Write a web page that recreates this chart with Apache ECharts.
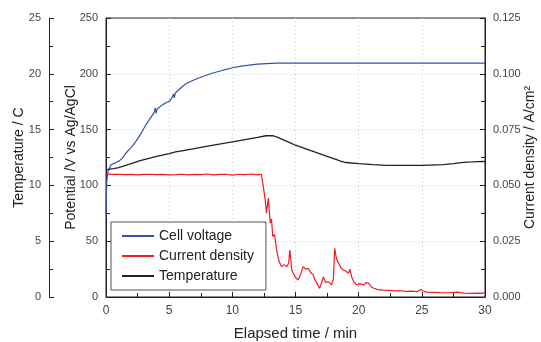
<!DOCTYPE html>
<html>
<head>
<meta charset="utf-8">
<script src="https://cdn.jsdelivr.net/npm/echarts@6/dist/echarts.min.js"></script>
<style>
  html, body { margin: 0; padding: 0; background: #fff; }
  #main { width: 541px; height: 342px; }
</style>
</head>
<body>
<div id="main"></div>
<script>
// elapsed time (min) and cell voltage (V vs Ag/AgCl)
var voltageTime = [0, 0.03, 0.06, 0.1, 0.15, 0.25, 0.4, 0.7, 1.06, 1.3, 1.58, 2.0, 2.37, 2.8, 3.17, 3.5, 3.8, 3.9, 3.96, 4.05, 4.2, 4.49, 4.75, 5.0, 5.2, 5.35, 5.4, 5.5, 5.7, 6.07, 6.4, 6.86, 7.4, 7.92, 8.4, 8.97, 9.5, 10.03, 10.7, 11.35, 12.0, 12.67, 13.5, 15, 18, 21, 24, 27, 30];
var voltage = [72, 92, 103, 108, 112, 115, 118.5, 120, 122, 124.5, 129, 134, 139.5, 147, 154.5, 160, 165, 169.5, 164.5, 168.5, 170, 172.4, 174, 175.4, 178, 182, 178.5, 183, 185, 188.9, 191.5, 194, 196.5, 198.7, 200.5, 202.3, 204, 205.4, 206.8, 207.7, 208.6, 209.2, 209.5, 209.5, 209.5, 209.5, 209.5, 209.5, 209.5];

// temperature (C)
var tempTime = [0, 0.3, 0.6, 1, 2, 2.64, 4, 5, 5.5, 6, 7, 7.5, 8.5, 10, 11, 12, 12.67, 13.2, 13.6, 14, 14.5, 15, 15.5, 16, 16.5, 17, 17.5, 18.26, 18.5, 19, 20, 21.15, 22.2, 23, 24, 25, 26.7, 27.5, 28.3, 29, 29.85, 30];
var temperature = [11.4, 11.45, 11.5, 11.6, 11.95, 12.2, 12.6, 12.85, 13.0, 13.1, 13.3, 13.4, 13.6, 13.9, 14.1, 14.3, 14.45, 14.45, 14.3, 14.1, 13.85, 13.6, 13.4, 13.2, 13.0, 12.8, 12.6, 12.3, 12.2, 12.05, 11.95, 11.86, 11.8, 11.8, 11.8, 11.8, 11.86, 11.95, 12.07, 12.1, 12.15, 12.1];

// current density (A/cm2)
var currentTime = [0, 0.5, 1, 1.5, 2, 2.5, 3, 3.5, 4, 4.5, 5, 5.5, 6, 6.5, 7, 7.5, 8, 8.5, 9, 9.5, 10, 10.5, 11, 11.5, 12, 12.3,
  12.45, 12.6, 12.7, 12.85, 13.0, 13.1, 13.2, 13.35, 13.5, 13.7, 13.9, 14.1, 14.3, 14.45, 14.56, 14.7, 14.96, 15.2, 15.4, 15.6, 15.8, 16.0, 16.2, 16.4, 16.55, 16.7, 16.9, 17.05, 17.2, 17.4, 17.6, 17.85, 18.0, 18.1, 18.25, 18.4, 18.6, 18.8, 19.0, 19.2, 19.3, 19.45, 19.6, 19.85, 20.1, 20.4, 20.6, 20.8, 21.0, 21.2, 21.5, 21.95, 22.5, 23.0, 23.3, 23.8, 24.2, 24.6, 24.9, 25.1, 25.4, 26.0, 26.5, 27.2, 27.8, 28.3, 29.0, 29.5, 29.8, 30];
var current = [0.0552, 0.0549, 0.0550, 0.0548, 0.0549, 0.0547, 0.0549, 0.0550, 0.0548, 0.0549, 0.0547, 0.0548, 0.0550, 0.0547, 0.0549, 0.0548, 0.0551, 0.0547, 0.0549, 0.0550, 0.0546, 0.0550, 0.0548, 0.0551, 0.0547, 0.0550,
  0.0496, 0.0436, 0.0376, 0.0443, 0.0331, 0.0350, 0.0271, 0.0280, 0.0211, 0.0160, 0.0136, 0.0145, 0.0136, 0.0150, 0.0210, 0.0121, 0.0091, 0.0076, 0.0100, 0.0136, 0.0125, 0.0129, 0.0110, 0.0099, 0.0075, 0.0061, 0.0039, 0.0060, 0.0090, 0.0065, 0.0069, 0.0054, 0.0080, 0.0218, 0.0170, 0.0166, 0.0130, 0.0121, 0.0115, 0.0106, 0.0125, 0.0090, 0.0069, 0.0054, 0.0060, 0.0054, 0.0065, 0.0061, 0.0045, 0.0039, 0.0033, 0.0031, 0.0030, 0.0027, 0.0028, 0.0025, 0.0026, 0.0024, 0.0034, 0.0027, 0.0022, 0.0021, 0.0020, 0.0019, 0.0022, 0.0017, 0.0016, 0.0017, 0.0016, 0.0022];

function zip(xs, ys) {
  return xs.map(function (x, i) { return [x, ys[i]]; });
}

var font = 'Liberation Sans';
var labelColor = '#444';
var axisColor = '#222';
var gridLine = { show: true, showMinLine: false, showMaxLine: false, lineStyle: { color: '#c8c8c8', type: [1, 3], width: 1 } };

function yAxisBase(extra) {
  var base = {
    type: 'value',
    axisLine: { show: true, onZero: false, lineStyle: { color: axisColor, width: 1 } },
    axisTick: { show: true, inside: true, length: 5, lineStyle: { color: axisColor } },
    minorTick: { show: true, splitNumber: 2, length: 4, lineStyle: { color: axisColor } },
    axisLabel: { color: labelColor, fontSize: 11, fontFamily: font, margin: 8 },
    splitLine: { show: false },
    nameLocation: 'middle',
    nameRotate: 90,
    nameMoveOverlap: false,
    nameTextStyle: { color: '#222', fontSize: 14, fontFamily: font }
  };
  return Object.assign(base, extra);
}

var myChart = echarts.init(document.getElementById('main'), null, { renderer: 'canvas' });

myChart.setOption({
  animation: false,
  textStyle: { fontFamily: font },
  grid: {
    left: 106, right: 56, top: 18, bottom: 45,
    outerBoundsMode: 'none', containLabel: false,
    show: true, borderColor: axisColor, borderWidth: 1, backgroundColor: 'transparent'
  },
  legend: {
    orient: 'vertical',
    left: 111, top: 222,
    padding: [7, 12, 7, 10],
    itemGap: 6,
    itemWidth: 32, itemHeight: 14,
    backgroundColor: '#fff',
    borderColor: '#555', borderWidth: 1, borderRadius: 0,
    itemStyle: { opacity: 0 },
    textStyle: { color: '#222', fontSize: 14, fontFamily: font },
    data: ['Cell voltage', 'Current density', 'Temperature']
  },
  xAxis: {
    type: 'value', min: 0, max: 30, interval: 5,
    name: 'Elapsed time / min',
    nameLocation: 'middle', nameGap: 29, nameMoveOverlap: false,
    nameTextStyle: { color: '#222', fontSize: 15, fontFamily: font },
    axisLine: { show: true, onZero: false, lineStyle: { color: axisColor } },
    axisTick: { show: true, inside: true, length: 5, lineStyle: { color: axisColor } },
    minorTick: { show: true, splitNumber: 2, length: 4, lineStyle: { color: axisColor } },
    axisLabel: { color: labelColor, fontSize: 12, fontFamily: font, margin: 8 },
    splitLine: gridLine
  },
  yAxis: [
    yAxisBase({
      position: 'left', offset: 57, min: 0, max: 25, interval: 5,
      name: 'Temperature / C', nameGap: 23
    }),
    yAxisBase({
      position: 'left', offset: 0, min: 0, max: 250, interval: 50,
      name: 'Potential /V vs Ag/AgCl', nameGap: 28,
      splitLine: gridLine
    }),
    yAxisBase({
      position: 'right', min: 0, max: 0.125, interval: 0.025,
      name: 'Current density / A/cm\u00B2', nameGap: 38,
      axisLabel: {
        color: labelColor, fontSize: 11, fontFamily: font, margin: 8,
        formatter: function (v) { return v.toFixed(3); }
      }
    })
  ],
  series: [
    {
      name: 'Cell voltage', type: 'line', yAxisIndex: 1,
      symbol: 'none', smooth: false,
      lineStyle: { color: '#3552b0', width: 1.2 },
      itemStyle: { color: '#3552b0' },
      data: zip(voltageTime, voltage)
    },
    {
      name: 'Current density', type: 'line', yAxisIndex: 2,
      symbol: 'none',
      lineStyle: { color: '#ee1c24', width: 1.2 },
      itemStyle: { color: '#ee1c24' },
      data: zip(currentTime, current)
    },
    {
      name: 'Temperature', type: 'line', yAxisIndex: 0,
      symbol: 'none',
      lineStyle: { color: '#222', width: 1.3 },
      itemStyle: { color: '#222' },
      data: zip(tempTime, temperature)
    }
  ]
});
</script>
</body>
</html>
